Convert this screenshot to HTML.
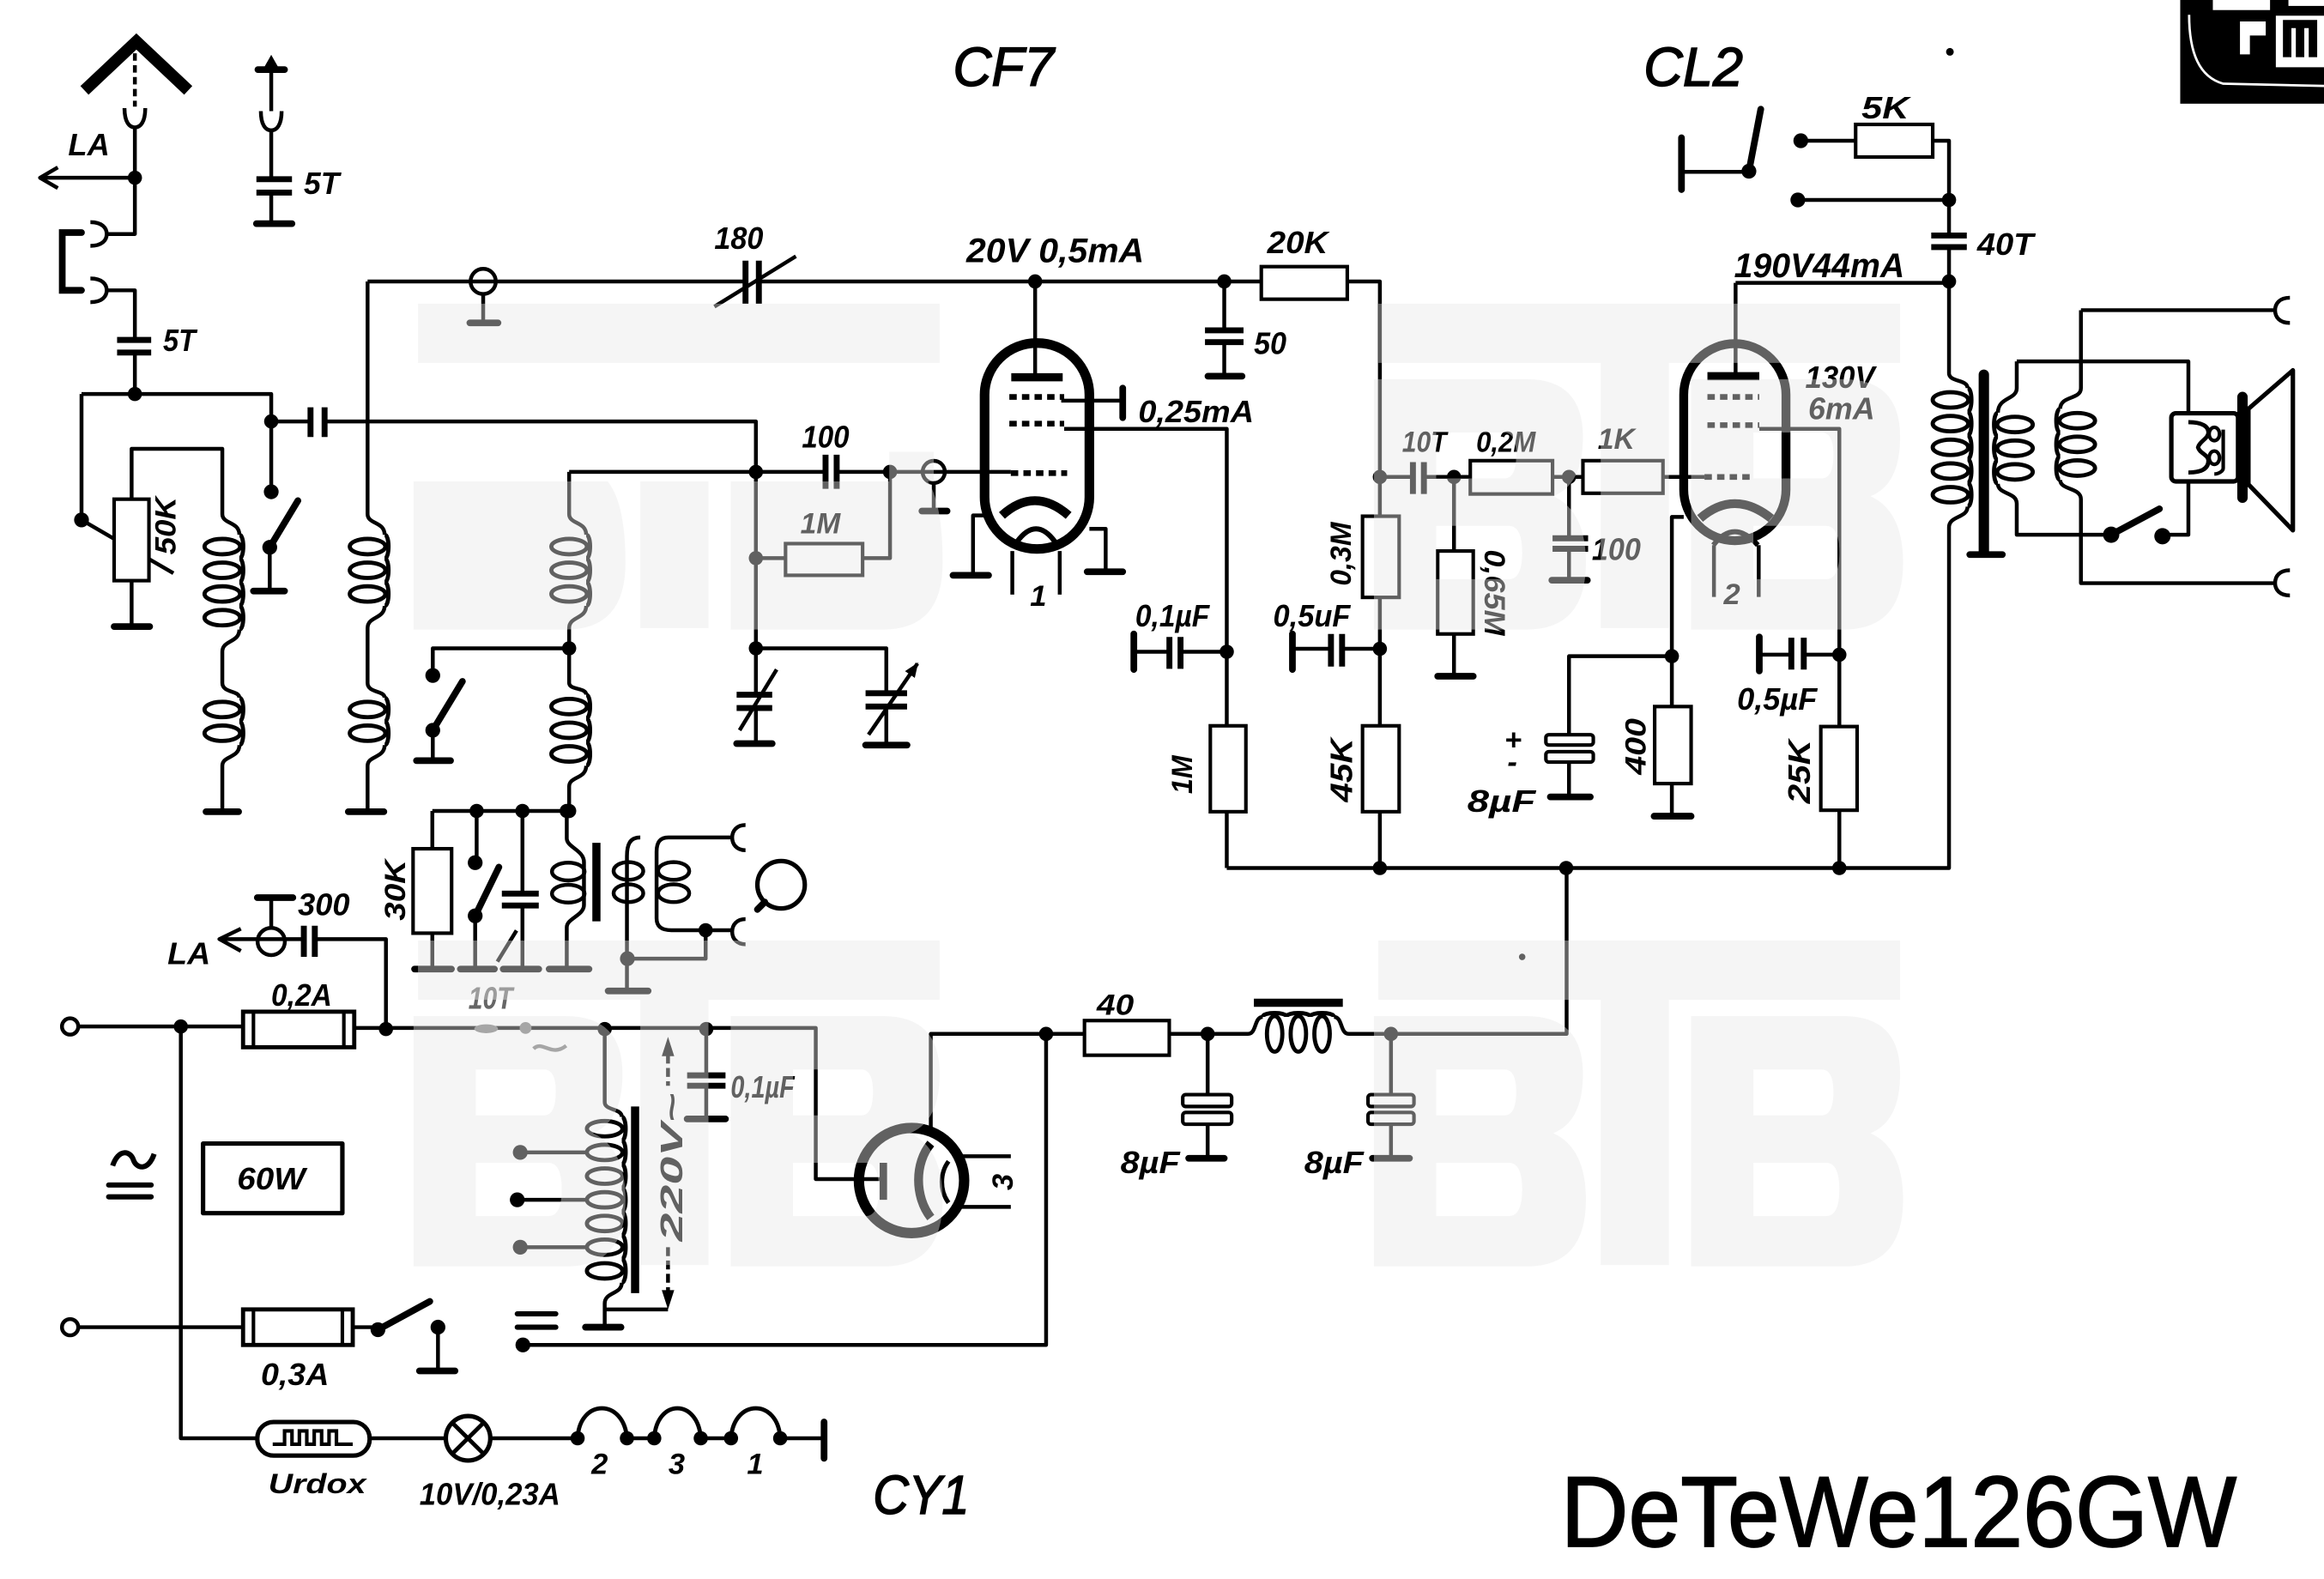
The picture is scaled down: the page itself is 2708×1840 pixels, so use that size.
<!DOCTYPE html>
<html><head><meta charset="utf-8"><title>DeTeWe 126 GW</title>
<style>
html,body{margin:0;padding:0;background:#fff;width:2708px;height:1840px;overflow:hidden}
svg{display:block}
.t{font-family:"Liberation Sans",sans-serif;font-style:italic;font-weight:bold;fill:#000}
.n{font-family:"Liberation Sans",sans-serif;font-style:italic;font-weight:normal;fill:#000}
.u{font-family:"Liberation Sans",sans-serif;font-weight:normal;fill:#000}
</style></head><body>
<svg xmlns="http://www.w3.org/2000/svg" width="2708" height="1840" viewBox="0 0 1568 1066" preserveAspectRatio="none">
<defs>
<marker id="ah" viewBox="0 0 10 8" refX="9" refY="4" markerWidth="10" markerHeight="8" markerUnits="userSpaceOnUse" orient="auto"><path d="M0,0 L10,4 L0,8 Z" fill="#000"/></marker>
<g id="c" fill="none" stroke="#000" stroke-width="2.8"><ellipse cx="-11.5" cy="0" rx="12" ry="5.2"/><path d="M0,-8 C3.5,-8 3.5,8 0,8"/></g>
<g id="cR" fill="none" stroke="#000" stroke-width="2.8"><ellipse cx="11.5" cy="0" rx="12" ry="5.2"/><path d="M0,-8 C-3.5,-8 -3.5,8 0,8"/></g>
<path id="btb" fill-rule="evenodd" d="M0,0 H352 V40 H0 Z
M-3,51 H100 Q138,51 138,90 Q138,122 118,130 Q140,140 140,175 Q140,220 100,220 H-3 Z
M39,87 H85 Q93,87 93,102 Q93,118 85,118 H39 Z
M39,150 H88 Q97,150 97,168 Q97,186 88,186 H39 Z
M150,40 H196 V219 H150 Z
M211,51 H314 Q352,51 352,90 Q352,122 332,130 Q354,140 354,175 Q354,220 314,220 H211 Z
M253,87 H299 Q307,87 307,102 Q307,118 299,118 H253 Z
M253,150 H302 Q311,150 311,168 Q311,186 302,186 H253 Z"/>
<path id="btb2" d="M0,0 H352 V40 H0 Z
M-3,120 H128 Q140,135 140,175 Q140,220 100,220 H-3 Z
M150,120 H196 V219 H150 Z
M211,120 H344 Q354,135 354,175 Q354,220 314,220 H211 Z
M318,100 H348 V120 H318 Z"/>
</defs>
<rect width="1568" height="1066" fill="#fff"/>

<!-- main wiring -->
<g fill="none" stroke="#000" stroke-width="2.6" stroke-linejoin="round">
<path d="M91,86 V158 H72 M72,196 H91 V229.5 M91,238 V266 M91,120 H28
M55,266 H183 V332 M55,266 V351 M88.8,337 V303 H150 V347 C150,354 161.5,352 161.5,361
M161.5,425 C161.5,434 150,432 150,440 V461 C150,468 161.5,466 161.5,471
M161.5,503 C161.5,512 150,510 150,517 V548 M88.8,392 V423
M183,284.5 H209.5 M219,284.5 H510 V469 M510,478 V502 M182,369.5 V399
M248,190 V347 C248,354 259.5,352 259.5,361 M259.5,409 C259.5,418 248,416 248,424 V461 C248,468 259.5,466 259.5,471
M259.5,503 C259.5,512 248,510 248,517 V548
M248,190 H503 M512,190 H931 V586
M326,198.5 V218 M384,318.6 H557 M564.5,318.6 H682 M630,326.5 V345
M384,318.6 V347 C384,354 395.5,352 395.5,361 M395.5,409 C395.5,418 384,416 384,424 V461 C384,466 395.5,464 395.5,469
M395.5,517 C395.5,526 384,524 384,531 V547.5
M384,437.7 H292 V456 M292,493 V513.5
M510,376.8 H600.5 V318.6 M510,437.7 H598 V468 M598,477 V503
M698.4,190 V254 M716,270.5 H757.5 M718,289.5 H827.7 V586
M664,348 H656.5 V388.4 M735,357 H746 V386 M683,372 V401.4 M715,372 V401.4
M826,190 V223 M826,231 V254 M827.7,440 H796.5 M789,440 H765
M827.7,586 H1315 V356 C1315,348 1327.5,350 1327.5,342
M931,438 H905.5 M898,438 H872 M931,322 H953.3 M960.7,322 H1150
M981,322 V456.5 M1058.6,322 V363.4 M1058.6,370.5 V391.7
M1171,191 V254 M1171,191 H1315 M1315,166.8 V252 C1315,258 1327.5,256 1327.5,262
M1187,289.5 H1241 V586 M1241,442 H1217 M1208.6,442 H1187
M1136,349 H1128 V551 M1128,443 H1058.6 V496 M1058.6,514.5 V538
M1156.4,368 V403 M1186.6,368 V403
M1215,95 H1315 V159 M1213,135 H1315 M1134.5,116 H1180
M1360.7,244 V262 C1360.7,270 1348,268 1348,278.6 M1348,326.6 C1348,334 1360.7,332 1360.7,340 V361 H1424.4
M1360.7,244 H1476.5 V279
M1404,209.4 H1535 M1404,209.4 V262 C1404,270 1390,267 1390,276 M1390,324 C1390,331 1404,329 1404,337 V393.7 H1535
M1476.5,325 V361 H1459
M52.5,693 H164 M239,694 H550.4 V796 H596 M122,693 V971 H173.6
M260.4,694.7 V634 H212.4 M205,634 H148 M183,606 V626.4
M408,694.7 V744 C408,750 419.5,748 419.5,754 M419.5,866 C419.5,874 408,872 408,880 V896 M408,884 H450.7
M396,778 H351 M396,810 H349 M396,842 H351
M476.5,694.7 V726 M476.5,733 V755.4
M52.5,896 H164 M238,896 H255 M295.5,896 V925.5 M352.8,908 H705.8 V698
M249.4,971 H300.8 M330.8,971 H389.7 M423,971 H441.4 M472.8,971 H493.2 M526.4,971 H556
M628,762 V698 H705.8 M705.8,698 H842 C848,698 846,686.5 852,686.5 M900,686.5 C906,686.5 904,698 910,698 H1057 V586
M814.8,698 V739 M814.8,759 V782 M938.5,698 V739 M938.5,759 V782
M648,780.6 H682 M648,814.8 H682
M183,47 V75 M183,88 V121 M183,130 V151
M291.7,547.5 H382.4 M291.7,547.5 V654.2 M321.6,547.5 V582.4 M320.6,618.3 V654.2
M352.5,547.5 V603.3 M352.5,611.3 V654.2
M382.4,547.5 V566 C382.4,572 394,574 394,582 V611 C394,618 382.4,620 382.4,626 V654.2
M432,565.4 C425,565.4 423,570 423,578 V669 M423.3,647.2 H476.1 V628
M494,565.4 H451 C445,565.4 443,569 443,575 V620 C443,626 447,628 453,628 H494"/>
<!-- sockets -->
<path d="M84,73 C84,82 87,86 91,86 C95,86 98,82 98,73
M176,75 C176,84 179,88 183,88 C187,88 190,84 190,75
M61,150 C69,150 72,154 72,158 C72,162 69,166 61,166
M61,188 C69,188 72,192 72,196 C72,200 69,204 61,204
M1545,201 C1538,201 1535,205 1535,209.4 C1535,214 1538,218 1545,218
M1545,385 C1538,385 1535,389 1535,393.7 C1535,398 1538,402 1545,402
M503,557 C497,557 494,561 494,565.4 C494,570 497,574 503,574
M503,620.5 C497,620.5 494,624.5 494,629 C494,633.5 497,637.5 503,637.5"/>
<path d="M55,351 L117,387 M482,207 L537,173 M499,493 L524,452 M586,496 L619,448" marker-end="url(#ah)"/>
<path d="M335.6,649.2 L348.5,628.2"/>
<polyline points="39,113 27,120 39,127"/>
<polyline points="162.5,627 148,634 162.5,642"/>
<path d="M91,36 V72" stroke-dasharray="5 3"/>
<path d="M450.7,712 V733 M450.7,842 V872" stroke-dasharray="6 3"/>
<circle cx="326" cy="190" r="8.5"/>
<circle cx="630" cy="318.6" r="7.5"/>
<circle cx="183" cy="635.6" r="9.2"/>
<circle cx="527" cy="597.3" r="16" stroke-width="3"/>
<ellipse cx="383.4" cy="588.4" rx="11" ry="6"/><ellipse cx="383.4" cy="603.3" rx="11" ry="6"/>
<ellipse cx="424" cy="588" rx="10" ry="6"/><ellipse cx="424" cy="603" rx="10" ry="6"/>
<ellipse cx="454.5" cy="588" rx="10.5" ry="6"/><ellipse cx="454.5" cy="603" rx="10.5" ry="6"/>
<path d="M389.7,971 C391,944 421,944 423,971 M441.4,971 C443,944 471,944 472.8,971 M493.2,971 C495,944 525,944 526.4,971" stroke-width="2.8"/>
<rect x="137" y="772" width="94" height="47" stroke-width="3"/>
<polygon points="1517,276 1547,250 1547,358 1517,327" stroke-width="3"/>
<path d="M76,787 C80,775 88,777 90,783 C92,789 100,791 104,779" stroke-width="3.5"/>
<path d="M360,708 C366,702 372,714 382,706" stroke="#777" stroke-width="2.5"/>
</g>

<!-- coils -->
<use href="#c" x="161.5" y="369"/><use href="#c" x="161.5" y="385"/><use href="#c" x="161.5" y="401"/><use href="#c" x="161.5" y="417"/>
<use href="#c" x="161.5" y="479"/><use href="#c" x="161.5" y="495"/>
<use href="#c" x="259.5" y="369"/><use href="#c" x="259.5" y="385"/><use href="#c" x="259.5" y="401"/>
<use href="#c" x="259.5" y="479"/><use href="#c" x="259.5" y="495"/>
<use href="#c" x="395.5" y="369"/><use href="#c" x="395.5" y="385"/><use href="#c" x="395.5" y="401"/>
<use href="#c" x="395.5" y="477"/><use href="#c" x="395.5" y="493"/><use href="#c" x="395.5" y="509"/>
<use href="#c" x="1327.5" y="270"/><use href="#c" x="1327.5" y="286"/><use href="#c" x="1327.5" y="302"/><use href="#c" x="1327.5" y="318"/><use href="#c" x="1327.5" y="334"/>
<use href="#cR" x="1348" y="286.6"/><use href="#cR" x="1348" y="302.6"/><use href="#cR" x="1348" y="318.6"/>
<use href="#cR" x="1390" y="284"/><use href="#cR" x="1390" y="300"/><use href="#cR" x="1390" y="316"/>
<use href="#c" x="419.5" y="762"/><use href="#c" x="419.5" y="778"/><use href="#c" x="419.5" y="794"/><use href="#c" x="419.5" y="810"/><use href="#c" x="419.5" y="826"/><use href="#c" x="419.5" y="842"/><use href="#c" x="419.5" y="858"/>
<use href="#c" transform="translate(860,686.5) rotate(-90)"/><use href="#c" transform="translate(876,686.5) rotate(-90)"/><use href="#c" transform="translate(892,686.5) rotate(-90)"/>

<!-- plates, ground bars, blades -->
<g stroke="#000" stroke-width="4" fill="none">
<path d="M79,229.5 H102 M79,238 H102 M173,121 H197 M173,130 H197
M209.5,275 V295 M219,275 V295 M503,176 V205 M512,176 V205 M557,307 V330 M564.5,307 V330
M813,223 H839 M813,231 H839 M789,430 V451.5 M796.5,430 V451.5 M898,428 V450 M905.5,428 V450
M953.3,312 V333.5 M960.7,312 V333.5 M1047.5,363.4 H1071.5 M1047.5,370.5 H1071.5
M1208.6,430.5 V452 M1217,430.5 V452 M1303,159 H1327 M1303,166.8 H1327
M497,469 H521 M497,478 H521 M584,468 H612 M584,477 H612
M338.6,603.3 H363.5 M338.6,611.3 H363.5 M205,625 V646 M212.4,625 V646
M463.6,726 H489.5 M463.6,733 H489.5"/>
</g>
<g stroke="#000" stroke-width="4.5" stroke-linecap="round" fill="none">
<path d="M765,428 V452 M872,428 V452 M1187,430 V453 M757.5,262 V282 M1134.5,93 V128 M556,960 V984.5
M77,423 H101 M139,548 H161 M171,399 H192 M235,548 H259 M317,218 H336 M622,345 H639 M281,513.5 H304
M497,502 H521 M584,503 H612 M643,388.4 H667 M733.5,386 H757.5 M815,254 H838 M970,456.5 H994
M1047,391.7 H1071 M1046,538 H1073 M1116,551 H1141 M1329,374.4 H1351 M173,151 H197 M174,47 H192
M279.7,654.2 H304.6 M310.6,654.2 H333.6 M339.5,654.2 H363.5 M370.5,654.2 H397.4 M410.3,669 H437.3
M173.6,606 H197.6 M395,896 H419 M463.6,755.4 H489.5 M283,925.5 H307 M802,782 H826 M926,782 H951
M182,369.5 L201,338 M292,493 L312,460 M320.6,618.3 L336.6,585.4 M255,897.7 L290,878.6
M1180,115.6 L1188,73.7 M1424.4,361 L1457,343.5 M516,609 L511,614
M55,157 H42 V196 H55"/>
<path d="M349,887 H375 M349,896 H375 M73.3,800 H102 M73.3,808 H102" stroke-width="3.5"/>
<path d="M402.4,569 V622 M428.5,747 V873 M846,677 H906" stroke-width="5.5" stroke-linecap="butt"/>
<path d="M1338.5,253 V372" stroke-width="7"/>
</g>
<polyline points="57,61 92,28 127,61" fill="none" stroke="#000" stroke-width="8"/>
<polygon points="183,37 178.5,45 187.5,45" fill="#000"/>
<polygon points="450.7,700 446.5,713 454.9,713" fill="#000"/>
<polygon points="450.7,884 446.5,871 454.9,871" fill="#000"/>

<!-- tubes -->
<g fill="none" stroke="#000">
<rect x="664.3" y="231.6" width="70.7" height="139" rx="35" stroke-width="6.5"/>
<path d="M682.3,254.7 H717" stroke-width="5.5"/>
<path d="M681,268 H718 M681,286 H718 M682,319.4 H720" stroke-width="3.8" stroke-dasharray="5 3.5"/>
<path d="M676,348 Q698,328 721,348" stroke-width="6"/>
<path d="M686,366 Q699,348 712,366" stroke-width="3.5"/>
<rect x="1136" y="232" width="69" height="133" rx="34.5" stroke-width="6"/>
<path d="M1152,254 H1187" stroke-width="5.5"/>
<path d="M1152,268 H1187 M1152,287 H1187 M1150,322 H1184" stroke-width="3.8" stroke-dasharray="5 3.5"/>
<path d="M1147,350 Q1170,330 1195,350" stroke-width="6"/>
<path d="M1156,368 Q1170,350 1186,368" stroke-width="3.5"/>
<circle cx="615" cy="797" r="35.5" stroke-width="7"/>
<path d="M596,785 V810" stroke-width="5"/>
<path d="M628,772 C617,785 617,808 628,822" stroke-width="6"/>
<path d="M640,784 C634,792 634,804 640,812" stroke-width="3"/>
</g>

<!-- resistors and boxes -->
<g fill="#fff" stroke="#000" stroke-width="2.4">
<rect x="77" y="337" width="23.5" height="55"/>
<rect x="530" y="367" width="52" height="21.4"/>
<rect x="851" y="180" width="58" height="22"/>
<rect x="816.6" y="490" width="24" height="58"/>
<rect x="919.3" y="348.5" width="24.7" height="54.8"/>
<rect x="919.3" y="490" width="24.7" height="58"/>
<rect x="992" y="311" width="55.5" height="22.5"/>
<rect x="1068" y="311" width="54" height="22"/>
<rect x="970" y="372" width="24" height="56"/>
<rect x="1116.4" y="477" width="24.6" height="52"/>
<rect x="1228.5" y="490.5" width="24.5" height="56.5"/>
<rect x="1252" y="84" width="52" height="22"/>
<rect x="278.7" y="573" width="26" height="57"/>
<rect x="731.7" y="689" width="57.2" height="23.4"/>
<rect x="1043" y="496" width="32" height="7" rx="2"/>
<rect x="1043" y="507.5" width="32" height="7" rx="2"/>
<rect x="798" y="739" width="33" height="8" rx="2"/>
<rect x="798" y="751" width="33" height="8" rx="2"/>
<rect x="923" y="739" width="31" height="8" rx="2"/>
<rect x="923" y="751" width="31" height="8" rx="2"/>
<rect x="164" y="683" width="75" height="24" stroke-width="2.8"/>
<rect x="164" y="884" width="74" height="24" stroke-width="2.8"/>
<rect x="173.6" y="960" width="75.8" height="22.7" rx="11" stroke-width="3"/>
<circle cx="315.8" cy="971" r="15" stroke-width="3"/>
<rect x="1465" y="279" width="45" height="46" rx="3" stroke-width="3"/>
<circle cx="47.3" cy="693" r="5.5" stroke-width="2.6"/>
<circle cx="47.3" cy="896" r="5.5" stroke-width="2.6"/>
</g>
<path d="M1513,268 V336" stroke="#000" stroke-width="7" stroke-linecap="round"/>
<g fill="none" stroke="#000" stroke-width="2.4">
<path d="M171,683 V707 M232,683 V707 M171,884 V908 M231,884 V908"/>
<path d="M184,975 H192 V966 H197 V975 H202 V966 H207 V975 H212 V966 H217 V975 H222 V966 H227 V975 H238"/>
<path d="M305,960.4 L326.4,981.6 M326.4,960.4 L305,981.6" stroke-width="2.8"/>
<path d="M1476.5,285 C1486,285 1490,288 1490,292 C1490,296 1484,298 1483,302 C1484,306 1490,307 1490,311 C1490,316 1486,319 1476.5,319" stroke-width="2.8"/>
<ellipse cx="1494" cy="293" rx="3.5" ry="4.5"/><ellipse cx="1494" cy="309" rx="3.5" ry="4.5"/>
<path d="M1500,290 V316 C1500,318 1497,320 1494,320"/>
</g>
<ellipse cx="328" cy="694.5" rx="8" ry="3" fill="#777"/>

<!-- junction dots -->
<g fill="#000">
<circle cx="91" cy="120" r="4.8"/><circle cx="91" cy="266" r="4.8"/><circle cx="183" cy="284.5" r="4.8"/>
<circle cx="183" cy="332" r="5"/><circle cx="55" cy="351" r="5"/><circle cx="182" cy="369.5" r="5"/>
<circle cx="292" cy="456" r="5"/><circle cx="292" cy="493" r="5"/><circle cx="384" cy="437.7" r="4.8"/>
<circle cx="384" cy="547.5" r="4.8"/><circle cx="510" cy="318.6" r="4.8"/><circle cx="510" cy="376.8" r="4.8"/>
<circle cx="510" cy="437.7" r="4.8"/><circle cx="600.5" cy="318.6" r="4.8"/><circle cx="698.4" cy="190" r="4.8"/>
<circle cx="826" cy="190" r="4.8"/><circle cx="827.7" cy="440" r="4.8"/><circle cx="931" cy="322" r="4.8"/>
<circle cx="931" cy="438" r="4.8"/><circle cx="931" cy="586" r="4.8"/><circle cx="981" cy="322" r="4.8"/>
<circle cx="1058.6" cy="322" r="4.8"/><circle cx="1128" cy="443" r="4.8"/><circle cx="1241" cy="442" r="4.8"/>
<circle cx="1241" cy="586" r="4.8"/><circle cx="1056.7" cy="586" r="4.8"/><circle cx="1315" cy="190" r="4.8"/>
<circle cx="1315" cy="135" r="4.8"/><circle cx="1213" cy="135" r="5"/><circle cx="1215" cy="95" r="5"/>
<circle cx="1180" cy="115.6" r="5"/><circle cx="1424.4" cy="361" r="5.5"/><circle cx="1459" cy="362" r="5.5"/>
<circle cx="321.6" cy="547.5" r="4.8"/><circle cx="352.5" cy="547.5" r="4.8"/><circle cx="382.4" cy="547.5" r="4.8"/>
<circle cx="320.6" cy="582.4" r="5"/><circle cx="320.6" cy="618.3" r="5"/><circle cx="423.3" cy="647.2" r="5"/>
<circle cx="476.1" cy="628" r="4.8"/><circle cx="122" cy="693" r="4.8"/><circle cx="260.4" cy="694.7" r="4.8"/>
<circle cx="408" cy="694.7" r="4.8"/><circle cx="476.5" cy="694.7" r="4.8"/><circle cx="354.6" cy="694" r="4" fill="#777"/>
<circle cx="351" cy="778" r="5"/><circle cx="349" cy="810" r="5"/><circle cx="351" cy="842" r="5"/>
<circle cx="255" cy="897.7" r="5"/><circle cx="295.5" cy="896" r="5"/><circle cx="352.8" cy="908" r="5"/>
<circle cx="705.8" cy="698" r="4.8"/><circle cx="814.8" cy="698" r="4.8"/><circle cx="938.5" cy="698" r="4.8"/>
<circle cx="389.7" cy="971" r="4.8"/><circle cx="423" cy="971" r="4.8"/><circle cx="441.4" cy="971" r="4.8"/>
<circle cx="472.8" cy="971" r="4.8"/><circle cx="493.2" cy="971" r="4.8"/><circle cx="526.4" cy="971" r="4.8"/>
<circle cx="1315.6" cy="35" r="2.6"/><circle cx="1027" cy="646" r="2.2"/>
</g>

<!-- logo -->
<rect x="1471" y="0" width="97" height="70" fill="#000"/>
<rect x="1493" y="0" width="38.6" height="6.8" fill="#fff"/>
<rect x="1544" y="0" width="24" height="4" fill="#fff"/>
<path d="M1477,10 C1477,36 1484,52 1500,56.5 L1568,58" stroke="#fff" stroke-width="1.6" fill="none"/>
<path d="M1511.3,14.5 H1518 V36.7 H1511.3 Z M1518,14.5 H1528.7 V24 H1518 Z" fill="#fff"/>
<rect x="1535.5" y="10.6" width="32.5" height="34.8" fill="#fff"/>
<path d="M1540.3,13.5 H1563.4 V38.6 H1557.7 V19 H1554.7 V38.6 H1549 V19 H1546 V38.6 H1540.3 Z" fill="#000"/>

<!-- labels -->
<g class="t">
<text x="46" y="105" font-size="21" textLength="28" lengthAdjust="spacingAndGlyphs">LA</text>
<text x="110" y="237" font-size="21" textLength="22" lengthAdjust="spacingAndGlyphs">5T</text>
<text x="205" y="131" font-size="21" textLength="24" lengthAdjust="spacingAndGlyphs">5T</text>
<text x="482" y="168" font-size="21" textLength="33" lengthAdjust="spacingAndGlyphs">180</text>
<text x="652" y="177" font-size="23" textLength="120" lengthAdjust="spacingAndGlyphs">20V 0,5mA</text>
<text x="855" y="171" font-size="21" textLength="41" lengthAdjust="spacingAndGlyphs">20K</text>
<text x="846" y="239" font-size="21" textLength="22" lengthAdjust="spacingAndGlyphs">50</text>
<text x="768" y="285" font-size="21" textLength="78" lengthAdjust="spacingAndGlyphs">0,25mA</text>
<text x="541" y="302" font-size="21" textLength="32" lengthAdjust="spacingAndGlyphs">100</text>
<text x="540" y="360" font-size="20" textLength="27" lengthAdjust="spacingAndGlyphs">1M</text>
<text x="766" y="423" font-size="21" textLength="50" lengthAdjust="spacingAndGlyphs">0,1µF</text>
<text x="859" y="423" font-size="21" textLength="52" lengthAdjust="spacingAndGlyphs">0,5uF</text>
<text x="946" y="305" font-size="20" textLength="30" lengthAdjust="spacingAndGlyphs">10T</text>
<text x="996" y="305" font-size="20" textLength="40" lengthAdjust="spacingAndGlyphs">0,2M</text>
<text x="1078" y="303" font-size="20" textLength="25" lengthAdjust="spacingAndGlyphs">1K</text>
<text x="1074" y="378" font-size="21" textLength="33" lengthAdjust="spacingAndGlyphs">100</text>
<text x="1218" y="262" font-size="21" textLength="47" lengthAdjust="spacingAndGlyphs">130V</text>
<text x="1220" y="283" font-size="21" textLength="45" lengthAdjust="spacingAndGlyphs">6mA</text>
<text x="1170" y="187" font-size="23" textLength="115" lengthAdjust="spacingAndGlyphs">190V44mA</text>
<text x="1256" y="80" font-size="21" textLength="32" lengthAdjust="spacingAndGlyphs">5K</text>
<text x="1334" y="172" font-size="21" textLength="38" lengthAdjust="spacingAndGlyphs">40T</text>
<text x="1015" y="506" font-size="20">+</text>
<text x="1017" y="521" font-size="20">-</text>
<text x="990" y="548" font-size="21" textLength="46" lengthAdjust="spacingAndGlyphs">8µF</text>
<text x="1172" y="479" font-size="21" textLength="54" lengthAdjust="spacingAndGlyphs">0,5µF</text>
<text x="695" y="409" font-size="20">1</text>
<text x="1163" y="408" font-size="20">2</text>
<text x="113" y="651" font-size="21" textLength="29" lengthAdjust="spacingAndGlyphs">LA</text>
<text x="201" y="618" font-size="21" textLength="35" lengthAdjust="spacingAndGlyphs">300</text>
<text x="316" y="681" font-size="21" textLength="30" lengthAdjust="spacingAndGlyphs" fill="#666">10T</text>
<text x="183" y="679" font-size="21" textLength="41" lengthAdjust="spacingAndGlyphs">0,2A</text>
<text x="176" y="935" font-size="21" textLength="46" lengthAdjust="spacingAndGlyphs">0,3A</text>
<text x="160" y="803" font-size="21" textLength="46" lengthAdjust="spacingAndGlyphs">60W</text>
<text x="493" y="741" font-size="21" textLength="43" lengthAdjust="spacingAndGlyphs">0,1µF</text>
<text x="181" y="1008" font-size="19" textLength="66" lengthAdjust="spacingAndGlyphs">Urdox</text>
<text x="283" y="1016" font-size="21" textLength="95" lengthAdjust="spacingAndGlyphs">10V/0,23A</text>
<text x="399" y="995" font-size="20">2</text>
<text x="451" y="995" font-size="20">3</text>
<text x="504" y="995" font-size="20">1</text>
<text x="740" y="685" font-size="20" textLength="25" lengthAdjust="spacingAndGlyphs">40</text>
<text x="756" y="792" font-size="21" textLength="40" lengthAdjust="spacingAndGlyphs">8µF</text>
<text x="880" y="792" font-size="21" textLength="40" lengthAdjust="spacingAndGlyphs">8µF</text>
<g text-anchor="middle" dominant-baseline="central">
<text x="112" y="355" font-size="20" textLength="39" lengthAdjust="spacingAndGlyphs" transform="rotate(-90 112 355)">50K</text>
<text x="798" y="523" font-size="20" textLength="26" lengthAdjust="spacingAndGlyphs" transform="rotate(-90 798 523)">1M</text>
<text x="905" y="374" font-size="20" textLength="43" lengthAdjust="spacingAndGlyphs" transform="rotate(-90 905 374)">0,3M</text>
<text x="905" y="520" font-size="21" textLength="43" lengthAdjust="spacingAndGlyphs" transform="rotate(-90 905 520)">45K</text>
<text x="1008" y="400" font-size="20" textLength="58" lengthAdjust="spacingAndGlyphs" transform="rotate(90 1008 400)">0,65M</text>
<text x="1104" y="504" font-size="20" textLength="38" lengthAdjust="spacingAndGlyphs" transform="rotate(-90 1104 504)">400</text>
<text x="1214" y="521" font-size="21" textLength="43" lengthAdjust="spacingAndGlyphs" transform="rotate(-90 1214 521)">25K</text>
<text x="267" y="601" font-size="20" textLength="41" lengthAdjust="spacingAndGlyphs" transform="rotate(-90 267 601)">30K</text>
<text x="453" y="788" font-size="21" textLength="100" lengthAdjust="spacingAndGlyphs" transform="rotate(-90 453 788)">220V~</text>
<text x="677" y="798" font-size="20" transform="rotate(-90 677 798)">3</text>
</g>
</g>
<g class="n" stroke="#000" stroke-width="0.9">
<text x="1109" y="58" font-size="37" textLength="67" lengthAdjust="spacingAndGlyphs">CL2</text>
<text x="643" y="58" font-size="37" textLength="68" lengthAdjust="spacingAndGlyphs">CF7</text>
<text x="589" y="1022" font-size="37" textLength="65" lengthAdjust="spacingAndGlyphs">CY1</text>
</g>
<text class="u" x="1053" y="1044" font-size="68" textLength="456" lengthAdjust="spacingAndGlyphs" stroke="#000" stroke-width="1">DeTeWe126GW</text>

<!-- watermark overlay -->
<g fill="#e6e6e6" fill-opacity="0.42">
<use href="#btb2" x="282" y="205"/>
<use href="#btb" x="930" y="205"/>
<use href="#btb" x="282" y="635"/>
<use href="#btb" x="930" y="635"/>
</g>
</svg>
</body></html>
